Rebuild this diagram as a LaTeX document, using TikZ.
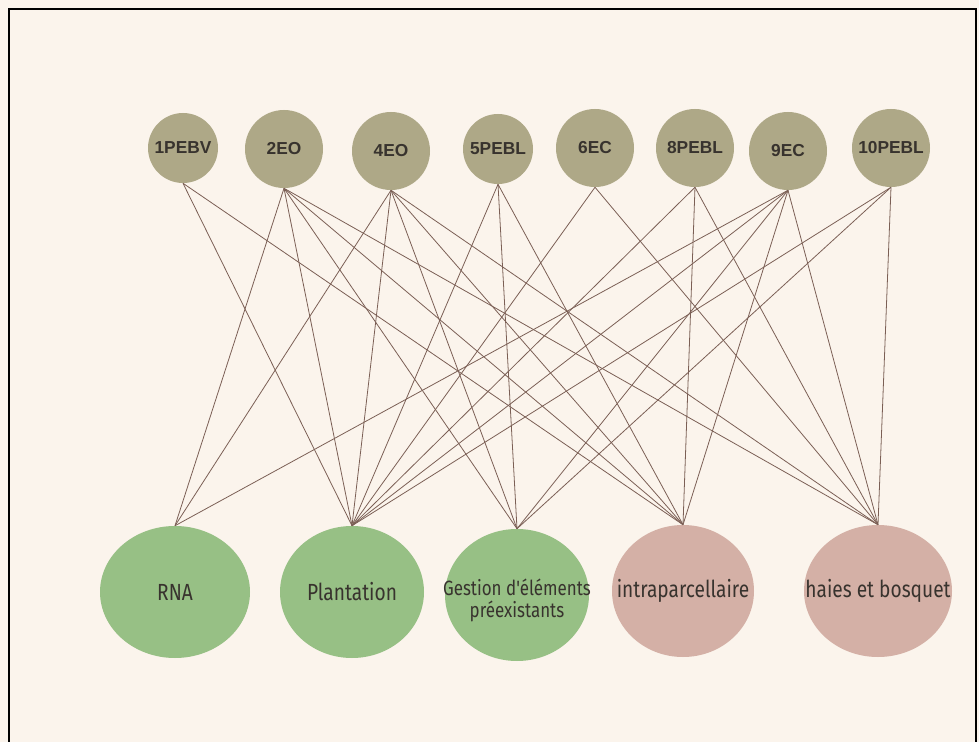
\documentclass[tikz,border=0pt]{standalone}
\usepackage{fontspec}
\setmainfont{Liberation Sans}
\newfontfamily\condfont[FakeStretch=0.82]{Fira Sans}
\usetikzlibrary{shapes.geometric}
\definecolor{bgc}{HTML}{FBF4EC}
\definecolor{olivec}{HTML}{AEA887}
\definecolor{greenc}{HTML}{97C085}
\definecolor{pinkc}{HTML}{D4B0A6}
\definecolor{linec}{HTML}{7B5F55}
\definecolor{txtc}{HTML}{38332E}
\begin{document}
\begin{tikzpicture}[x=0.75pt,y=-0.75pt,
  topc/.style={circle, fill=olivec, inner sep=0pt, text=txtc, font=\fontsize{13}{15}\selectfont\bfseries},
  smallc/.style={topc, minimum size=52.5pt},
  bigc/.style={topc, minimum size=58.5pt},
  botc/.style={ellipse, inner sep=0pt, minimum height=99pt},
  botlab/.style={text=txtc, align=center, inner sep=0pt, font=\condfont\fontsize{17.5}{19}\selectfont},
  greenb/.style={botc, fill=greenc},
  pinkb/.style={botc, fill=pinkc},
  conn/.style={draw=linec, line width=0.6pt}]
\fill[bgc] (0,0) rectangle (979,742);
\useasboundingbox (0,0) rectangle (979,742);
\draw[line width=1.6pt, black] (9,742) -- (9,9) -- (976,9) -- (976,742);
% top nodes
\node[smallc] (t1) at (183,148) {1PEBV};
\node[bigc] (t2) at (284,149) {2EO};
\node[bigc] (t4) at (391,151) {4EO};
\node[smallc] (t5) at (498,149) {5PEBL};
\node[bigc] (t6) at (595,148) {6EC};
\node[bigc] (t8) at (695,148) {8PEBL};
\node[bigc] (t9) at (788,151) {9EC};
\node[bigc] (t10) at (891,148) {10PEBL};
% bottom nodes
\node[greenb, minimum width=112.5pt, label={[botlab]center:RNA}] (rna) at (175,592) {};
\node[greenb, minimum width=108pt, label={[botlab]center:Plantation}] (pla) at (352,592) {};
\node[greenb, minimum width=108pt, label={[botlab, font=\condfont\fontsize{15.5}{16.5}\selectfont, yshift=-4pt]center:Gestion d'éléments\\préexistants}] (ges) at (517,595) {};
\node[pinkb, minimum width=106.5pt, label={[botlab]center:intraparcellaire}] (int) at (683,591) {};
\node[pinkb, minimum width=111pt, label={[botlab]center:haies et bosquet}] (hai) at (878,591) {};
% connectors
\foreach \a/\b in {t1/pla, t1/int,
  t2/rna, t2/pla, t2/ges, t2/int, t2/hai,
  t4/rna, t4/pla, t4/ges, t4/int, t4/hai,
  t5/pla, t5/ges, t5/int,
  t6/pla, t6/hai,
  t8/pla, t8/int, t8/hai,
  t9/rna, t9/pla, t9/ges, t9/int, t9/hai,
  t10/pla, t10/ges, t10/hai}
  \path[conn] (\a.south) -- (\b.north);
\end{tikzpicture}
\end{document}
